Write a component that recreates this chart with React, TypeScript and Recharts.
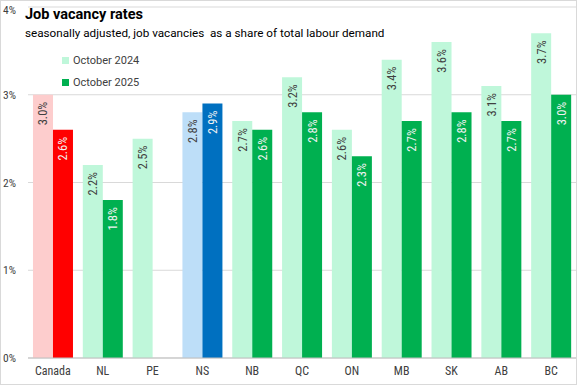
import { Bar, BarChart, CartesianGrid, Cell, LabelList, XAxis, YAxis } from "recharts";

const regions = ["Canada", "NL", "PE", "NS", "NB", "QC", "ON", "MB", "SK", "AB", "BC"];
const oct2024 = [3.0, 2.2, 2.5, 2.8, 2.7, 3.2, 2.6, 3.4, 3.6, 3.1, 3.7];
const oct2025 = [2.6, 1.8, null, 2.9, 2.6, 2.8, 2.3, 2.7, 2.8, 2.7, 3.0];
const yTicks = [0, 1, 2, 3, 4];

const lightColors: Record<string, string> = { Canada: "#FDCDCD", NS: "#BDDEF8" };
const darkColors: Record<string, string> = { Canada: "#FF0000", NS: "#0070C0" };
const LIGHT_GREEN = "#BFF7DA";
const DARK_GREEN = "#00B050";

const narrow = "'Liberation Sans Narrow', 'Arial Narrow', 'Roboto Condensed', 'Liberation Sans', sans-serif";

const rows = regions.map((r, i) => ({ region: r, oct2024: oct2024[i], oct2025: oct2025[i] }));

function makeLabel(fill: string) {
  return (props: any) => {
    const { x, y, width, value } = props;
    if (value == null) return null;
    const cx = Number(x) + Number(width) / 2;
    const ty = Number(y) + 7;
    return (
      <text
        x={cx}
        y={ty}
        transform={`rotate(-90, ${cx}, ${ty})`}
        textAnchor="end"
        dominantBaseline="central"
        fontSize={12.5}
        fontFamily={narrow}
        fill={fill}
      >
        {`${Number(value).toFixed(1)}%`}
      </text>
    );
  };
}

function YTick(props: any) {
  const { y, payload } = props;
  return (
    <text x={2} y={y} dy={4} fontSize={11.5} fontFamily={narrow} fill="#404040" textAnchor="start">
      {`${payload.value}%`}
    </text>
  );
}

export default function App() {
  return (
    <div
      style={{
        position: "fixed",
        top: 0,
        left: 0,
        width: 577,
        height: 385,
        boxSizing: "border-box",
        border: "1px solid #d9d9d9",
        background: "#fff",
      }}
    >
      <BarChart
        width={575}
        height={383}
        data={rows}
        margin={{ top: 6, right: 0, left: 0, bottom: 0 }}
        barCategoryGap="10%"
        barGap={0}
      >
        <CartesianGrid vertical={false} stroke="#d9d9d9" />
        <XAxis
          dataKey="region"
          axisLine={{ stroke: "#bfbfbf" }}
          tickLine={false}
          height={26}
          tick={{ fontSize: 12, fill: "#404040", fontFamily: narrow }}
          interval={0}
        />
        <YAxis
          domain={[0, 4]}
          ticks={yTicks}
          width={27}
          axisLine={false}
          tickLine={false}
          tick={<YTick />}
        />
        <Bar dataKey="oct2024" isAnimationActive={false}>
          {rows.map((r) => (
            <Cell key={r.region} fill={lightColors[r.region] ?? LIGHT_GREEN} />
          ))}
          <LabelList dataKey="oct2024" content={makeLabel("#404040")} />
        </Bar>
        <Bar dataKey="oct2025" isAnimationActive={false}>
          {rows.map((r) => (
            <Cell key={r.region} fill={darkColors[r.region] ?? DARK_GREEN} />
          ))}
          <LabelList dataKey="oct2025" content={makeLabel("#F2F2F2")} />
        </Bar>
      </BarChart>

      <div
        style={{
          position: "absolute",
          left: 24,
          top: 4,
          fontFamily: "Roboto, 'Noto Sans', sans-serif",
          color: "#000",
        }}
      >
        <div style={{ fontSize: 14.5, fontWeight: 700, lineHeight: "20px" }}>Job vacancy rates</div>
        <div style={{ fontSize: 11.7, lineHeight: "16px", whiteSpace: "pre" }}>
          {"seasonally adjusted, job vacancies  as a share of total labour demand"}
        </div>
      </div>

      <div
        style={{
          position: "absolute",
          left: 61,
          top: 48,
          fontFamily: "Roboto, 'Noto Sans', sans-serif",
          fontSize: 11,
          color: "#404040",
        }}
      >
        {[
          { name: "October 2024", color: LIGHT_GREEN },
          { name: "October 2025", color: DARK_GREEN },
        ].map((item) => (
          <div key={item.name} style={{ display: "flex", alignItems: "center", height: 22 }}>
            <span style={{ width: 7, height: 7, background: item.color, marginRight: 4 }} />
            {item.name}
          </div>
        ))}
      </div>
    </div>
  );
}
